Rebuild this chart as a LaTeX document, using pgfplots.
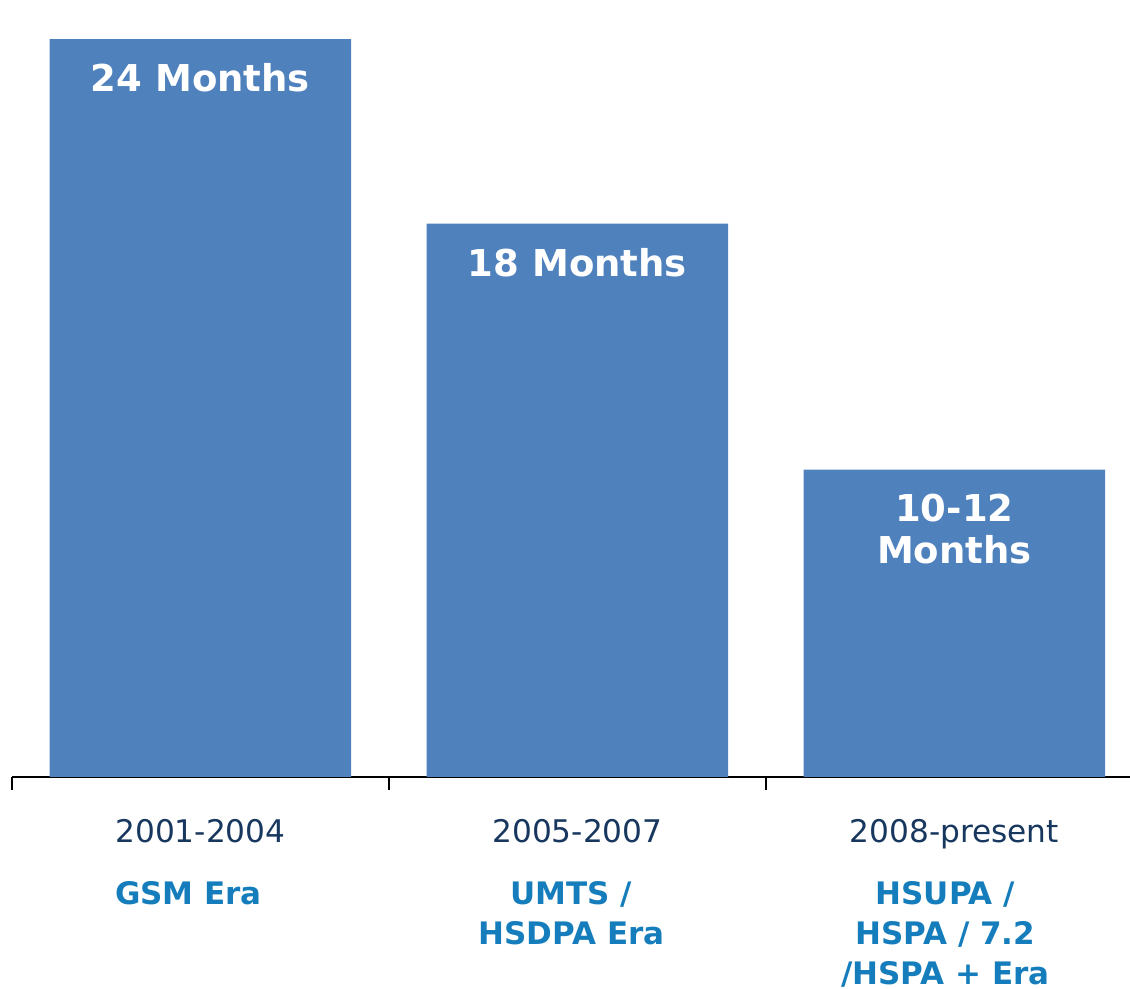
\documentclass[border=0pt]{standalone}
\usepackage{pgfplots}
\pgfplotsset{compat=1.18}
\usepackage{fontspec}
\setmainfont{DejaVu Sans}
\definecolor{barblue}{HTML}{4F81BD}
\definecolor{navy}{HTML}{17375E}
\definecolor{erablue}{HTML}{157DBC}
\newcommand{\yr}[1]{{\fontsize{15.6}{20}\selectfont\color{navy}#1}}
\newcommand{\era}[2]{{\fontsize{15.5}{20}\selectfont\bfseries\color{erablue}#1\rule{#2}{0pt}}}
\begin{document}
\begin{tikzpicture}
\useasboundingbox (0,0) rectangle (565pt,494.5pt);
\begin{axis}[
  at={(6pt,106pt)}, anchor=south west,
  scale only axis, width=559pt, height=388.5pt,
  xmin=-0.5, xmax=2.466, ymin=0, ymax=25.27,
  axis x line=bottom, axis y line=none,
  axis line style={black, line width=1pt, -},
  xtick={0,1,2},
  xticklabels={
    {\yr{2001-2004}\\[11.3pt]\era{GSM Era}{12pt}},
    {\yr{2005-2007}\\[11.3pt]\era{UMTS /}{6pt}\\\era{HSDPA Era}{6pt}},
    {\yr{2008-present}\\[11.3pt]\era{HSUPA /}{9pt}\\\era{HSPA / 7.2}{9pt}\\\era{/HSPA + Era}{9pt}}
  },
  major tick length=0pt,
  minor xtick={-0.5,0.5,1.5},
  minor tick length=6.5pt,
  tick align=outside,
  tick style={black, line width=1pt},
  xticklabel style={align=center, anchor=north, inner sep=0pt, yshift=-20.8pt,
    font=\fontsize{15.5}{20}\selectfont},
  ytick=\empty,
  clip=false,
  nodes near coords={\pgfplotspointmeta},
  point meta=explicit symbolic,
  nodes near coords style={anchor=north, inner sep=0pt, yshift=-12pt, align=center,
    font=\fontsize{18.5}{21}\selectfont\bfseries, text=white},
]
\addplot[ybar, bar width=0.8, fill=barblue, draw=none] coordinates {
  (0,24) [24 Months]
  (1,18) [18 Months]
  (2,10) [{10-12\\Months}]
};
\end{axis}
\end{tikzpicture}
\end{document}
